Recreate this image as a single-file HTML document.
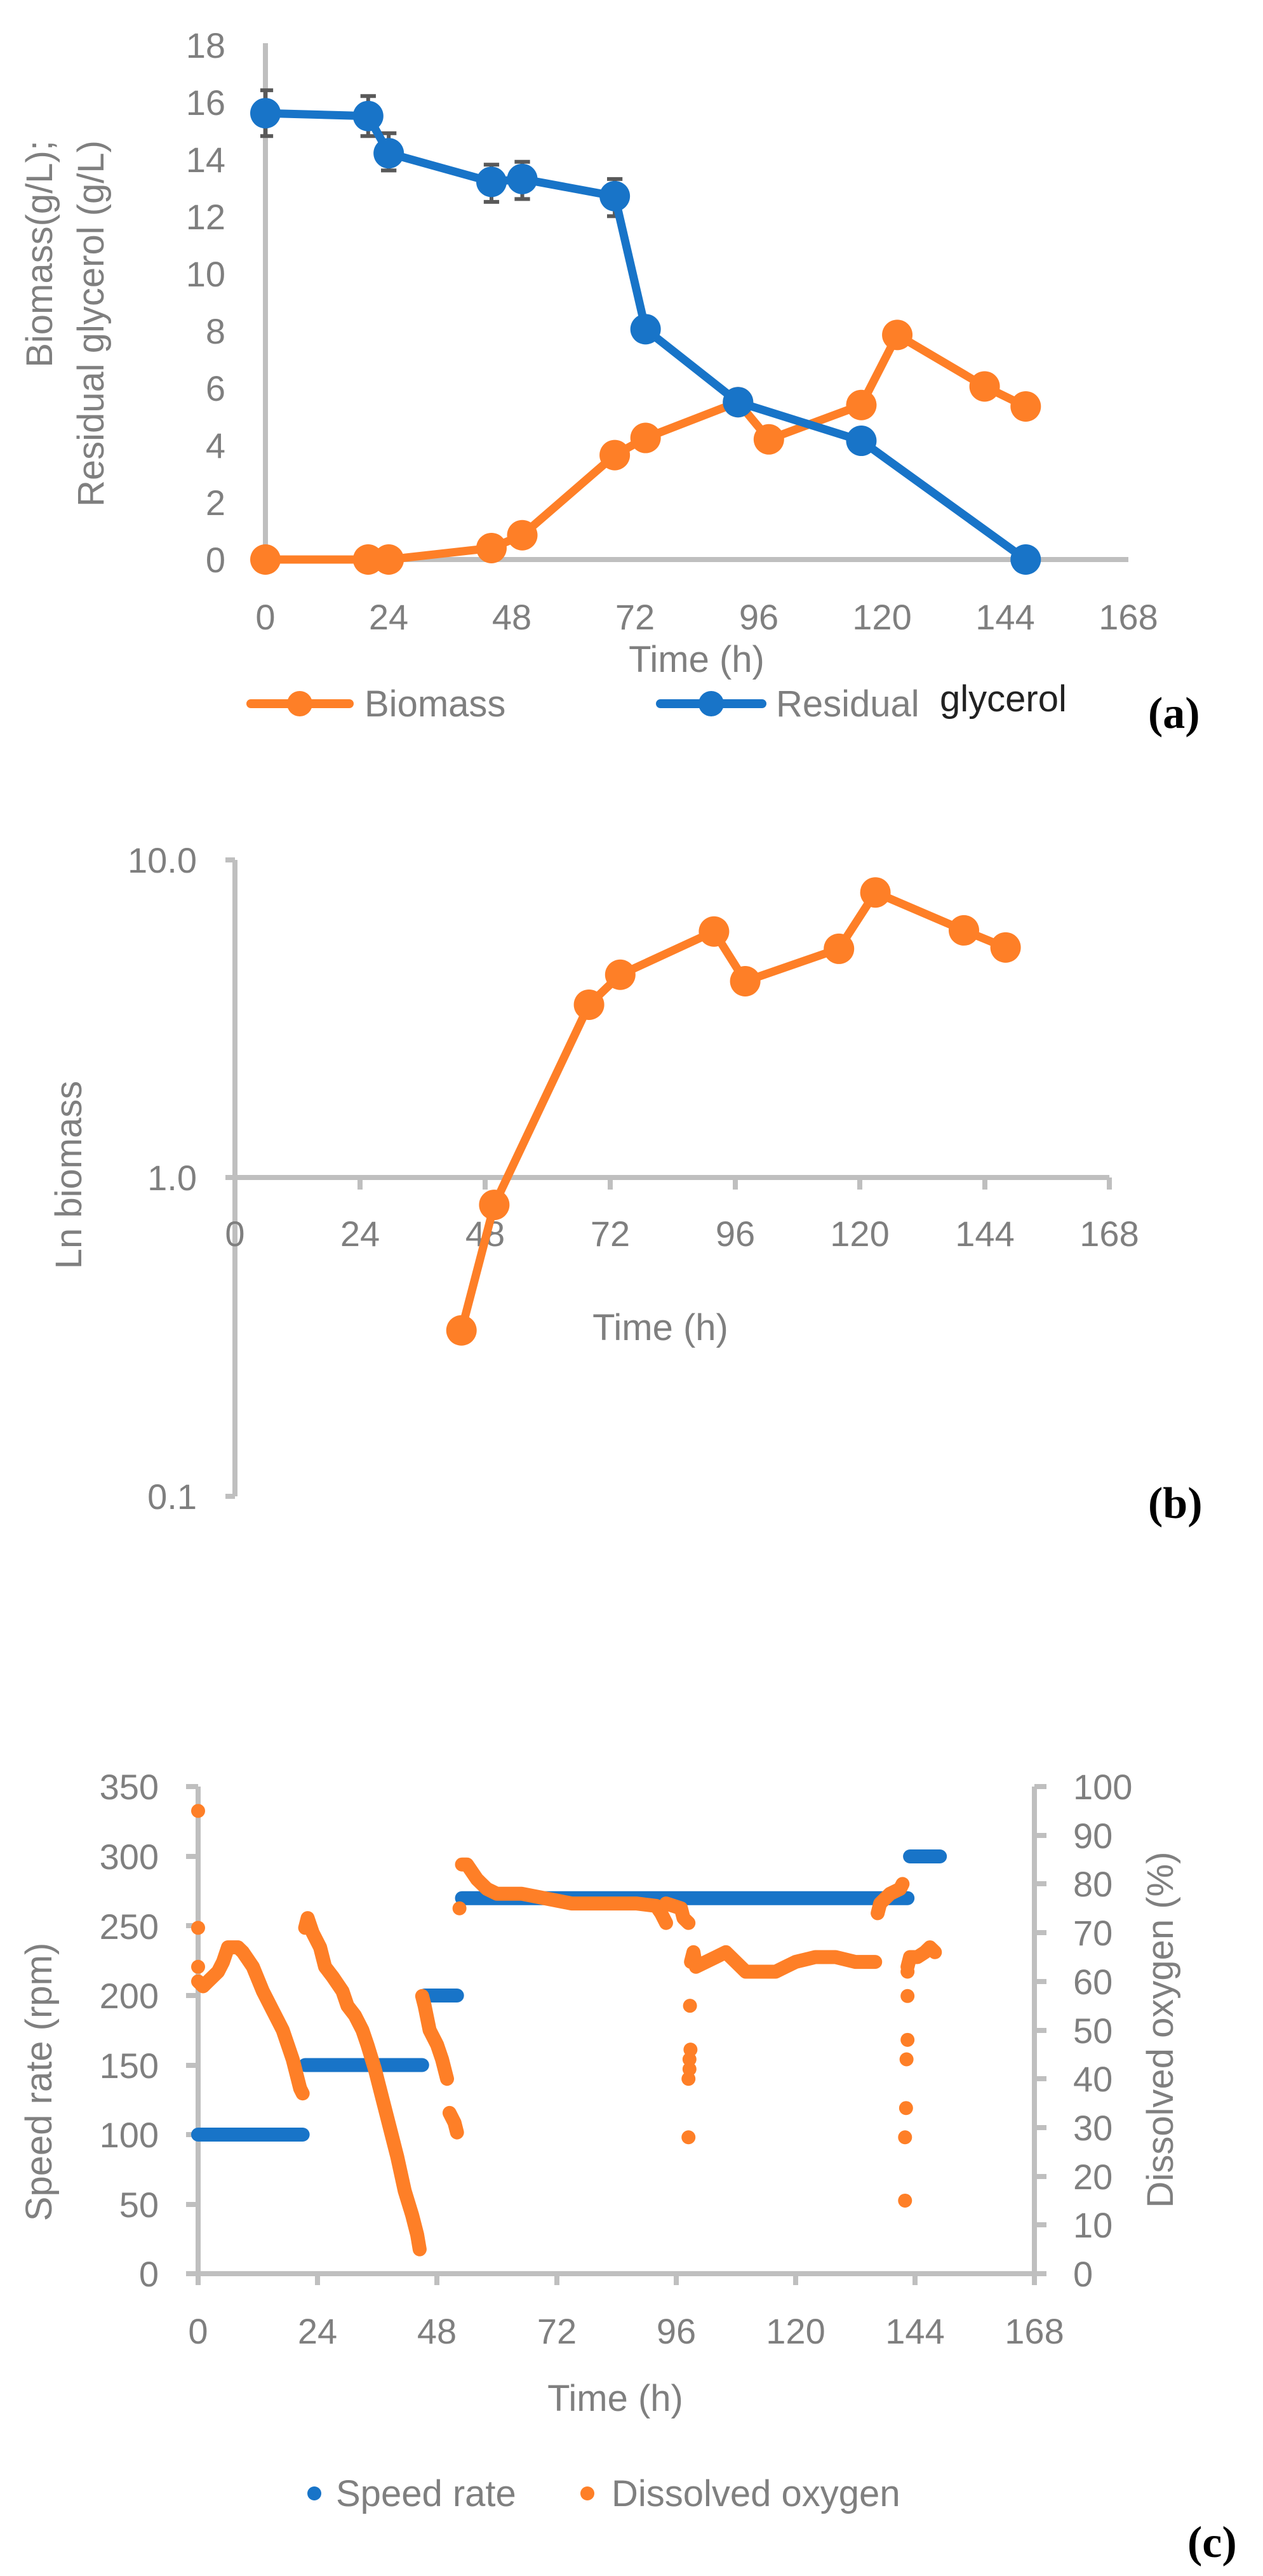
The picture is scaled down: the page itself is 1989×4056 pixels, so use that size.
<!DOCTYPE html>
<html><head><meta charset="utf-8"><style>
html,body{margin:0;padding:0;background:#fff}
svg{display:block}
.t{font-family:"Liberation Sans",sans-serif;fill:#7f7f7f;font-size:56px}
.tit{font-family:"Liberation Sans",sans-serif;fill:#7f7f7f;font-size:58px}
.lab{font-family:"Liberation Serif",serif;font-weight:bold;fill:#000;font-size:70px}
</style></head><body>
<svg width="1989" height="4056" viewBox="0 0 1989 4056" xmlns="http://www.w3.org/2000/svg">
<!-- ================= Chart (a) ================= -->
<g stroke="#bfbfbf" stroke-width="8" fill="none">
<line x1="418" y1="68" x2="418" y2="885"/>
<line x1="414" y1="881" x2="1777" y2="881"/>
</g>
<g class="t" text-anchor="end">
<text x="355" y="901">0</text><text x="355" y="811">2</text><text x="355" y="721">4</text>
<text x="355" y="631">6</text><text x="355" y="541">8</text><text x="355" y="451">10</text>
<text x="355" y="361">12</text><text x="355" y="271">14</text><text x="355" y="181">16</text>
<text x="355" y="91">18</text>
</g>
<g class="t" text-anchor="middle">
<text x="418" y="991">0</text><text x="612" y="991">24</text><text x="806" y="991">48</text>
<text x="1000" y="991">72</text><text x="1195" y="991">96</text><text x="1389" y="991">120</text>
<text x="1583" y="991">144</text><text x="1777" y="991">168</text>
</g>
<text class="tit" x="1097" y="1058" text-anchor="middle">Time (h)</text>
<g class="tit" text-anchor="end">
<text transform="translate(82,221) rotate(-90)">Biomass(g/L);</text>
<text transform="translate(163,221) rotate(-90)">Residual glycerol (g/L)</text>
</g>
<g transform="translate(418,881) scale(8.09,-45.05)" fill="none">
<g stroke="#595959" stroke-width="6">
<path vector-effect="non-scaling-stroke" d="M0 14.8V16.4M-1 14.8H1.5M-1 16.4H1.5 M20 14.8V16.2M18.5 14.8H21.5M18.5 16.2H21.5 M24 13.6V14.9M22.5 13.6H25.5M22.5 14.9H25.5 M44 12.5V13.8M42.5 12.5H45.5M42.5 13.8H45.5 M50 12.6V13.9M48.5 12.6H51.5M48.5 13.9H51.5 M68 12.0V13.3M66.5 12.0H69.5M66.5 13.3H69.5 M123 7.55V8.15M121.5 8.15H124.5"/>
</g>
<polyline vector-effect="non-scaling-stroke" stroke="#fe7f27" stroke-width="13" stroke-linejoin="round" points="0,0 20,0 24,0 44,0.4 50,0.85 68,3.65 74,4.25 92,5.5 98,4.2 116,5.4 123,7.85 140,6.05 148,5.35"/>
<path vector-effect="non-scaling-stroke" stroke="#fe7f27" stroke-width="48" stroke-linecap="round" d="M0 0h0M20 0h0M24 0h0M44 0.4h0M50 0.85h0M68 3.65h0M74 4.25h0M92 5.5h0M98 4.2h0M116 5.4h0M123 7.85h0M140 6.05h0M148 5.35h0"/>
<polyline vector-effect="non-scaling-stroke" stroke="#1874c8" stroke-width="13" stroke-linejoin="round" points="0,15.6 20,15.5 24,14.2 44,13.2 50,13.3 68,12.7 74,8.05 92,5.5 116,4.15 148,0"/>
<path vector-effect="non-scaling-stroke" stroke="#1874c8" stroke-width="48" stroke-linecap="round" d="M0 15.6h0M20 15.5h0M24 14.2h0M44 13.2h0M50 13.3h0M68 12.7h0M74 8.05h0M92 5.5h0M116 4.15h0M148 0h0"/>
</g>
<!-- legend a -->
<line x1="395" y1="1108" x2="550" y2="1108" stroke="#fe7f27" stroke-width="14" stroke-linecap="round"/>
<circle cx="472" cy="1108" r="20" fill="#fe7f27"/>
<text class="tit" x="574" y="1128">Biomass</text>
<line x1="1040" y1="1108" x2="1200" y2="1108" stroke="#1874c8" stroke-width="14" stroke-linecap="round"/>
<circle cx="1120" cy="1108" r="20" fill="#1874c8"/>
<text class="tit" x="1222" y="1128">Residual</text>
<text x="1480" y="1120" font-family="Liberation Sans,sans-serif" font-size="58" fill="#222">glycerol</text>
<text class="lab" x="1808" y="1146">(a)</text>

<!-- ================= Chart (b) ================= -->
<g stroke="#bfbfbf" stroke-width="8" fill="none">
<line x1="370" y1="1354" x2="370" y2="2356"/>
<line x1="355" y1="1354" x2="370" y2="1354"/>
<line x1="355" y1="1854" x2="1747" y2="1854"/>
<line x1="355" y1="2356" x2="370" y2="2356"/>
<path d="M567 1854v19M764 1854v19M961 1854v19M1158 1854v19M1354 1854v19M1551 1854v19M1747 1854v19"/>
</g>
<g class="t" text-anchor="end">
<text x="310" y="1374">10.0</text><text x="310" y="1874">1.0</text><text x="310" y="2376">0.1</text>
</g>
<g class="t" text-anchor="middle">
<text x="370" y="1962">0</text><text x="567" y="1962">24</text><text x="764" y="1962">48</text>
<text x="961" y="1962">72</text><text x="1158" y="1962">96</text><text x="1354" y="1962">120</text>
<text x="1551" y="1962">144</text><text x="1747" y="1962">168</text>
</g>
<text class="tit" x="1040" y="2110" text-anchor="middle">Time (h)</text>
<text class="tit" text-anchor="middle" transform="translate(128,1850) rotate(-90)">Ln biomass</text>
<g transform="translate(370,1854) scale(8.2,-500)" fill="none">
<polyline vector-effect="non-scaling-stroke" stroke="#fe7f27" stroke-width="13" stroke-linejoin="round" points="43.5,-0.4815 49.8,-0.0862 68,0.5441 74,0.6385 92,0.7745 98,0.6180 116,0.7202 123,0.8976 140,0.7782 148,0.7243"/>
<path vector-effect="non-scaling-stroke" stroke="#fe7f27" stroke-width="48" stroke-linecap="round" d="M43.5 -0.4815h0M49.8 -0.0862h0M68 0.5441h0M74 0.6385h0M92 0.7745h0M98 0.6180h0M116 0.7202h0M123 0.8976h0M140 0.7782h0M148 0.7243h0"/>
</g>
<text class="lab" x="1808" y="2390">(b)</text>

<!-- ================= Chart (c) ================= -->
<g stroke="#bfbfbf" stroke-width="8" fill="none">
<line x1="312" y1="2813" x2="312" y2="3598"/>
<line x1="1629" y1="2813" x2="1629" y2="3598"/>
<line x1="293" y1="3580" x2="1648" y2="3580"/>
<path d="M293 2813h19M293 2923h19M293 3032h19M293 3142h19M293 3252h19M293 3361h19M293 3471h19"/>
<path d="M1629 2813h19M1629 2890h19M1629 2966h19M1629 3043h19M1629 3120h19M1629 3197h19M1629 3273h19M1629 3350h19M1629 3427h19M1629 3503h19"/>
<path d="M500 3580v18M688 3580v18M877 3580v18M1065 3580v18M1253 3580v18M1441 3580v18"/>
</g>
<g class="t" text-anchor="end">
<text x="250" y="3600">0</text><text x="250" y="3491">50</text><text x="250" y="3381">100</text>
<text x="250" y="3272">150</text><text x="250" y="3162">200</text><text x="250" y="3053">250</text>
<text x="250" y="2943">300</text><text x="250" y="2833">350</text>
</g>
<g class="t">
<text x="1690" y="3600">0</text><text x="1690" y="3523">10</text><text x="1690" y="3447">20</text>
<text x="1690" y="3370">30</text><text x="1690" y="3293">40</text><text x="1690" y="3217">50</text>
<text x="1690" y="3140">60</text><text x="1690" y="3063">70</text><text x="1690" y="2986">80</text>
<text x="1690" y="2910">90</text><text x="1690" y="2833">100</text>
</g>
<g class="t" text-anchor="middle">
<text x="312" y="3690">0</text><text x="500" y="3690">24</text><text x="688" y="3690">48</text>
<text x="877" y="3690">72</text><text x="1065" y="3690">96</text><text x="1253" y="3690">120</text>
<text x="1441" y="3690">144</text><text x="1629" y="3690">168</text>
</g>
<text class="tit" x="969" y="3796" text-anchor="middle">Time (h)</text>
<text class="tit" text-anchor="middle" transform="translate(81,3278) rotate(-90)">Speed rate (rpm)</text>
<text class="tit" text-anchor="middle" transform="translate(1847,3196) rotate(-90)">Dissolved oxygen (%)</text>
<g transform="translate(312,3580) scale(7.84,-2.19)" fill="none">
<path vector-effect="non-scaling-stroke" stroke="#1874c8" stroke-width="22" stroke-linecap="round" d="M0 100H21M21.5 150H45M45.5 200H52M53 270H142.5M143 300H149"/>
</g>
<g transform="translate(312,3580) scale(7.84,-7.67)" fill="none" stroke="#fe7f27" stroke-width="22" stroke-linecap="round" stroke-linejoin="round">
<path vector-effect="non-scaling-stroke" d="M0 95h0M0 71h0M0 63h0M52.5 75h0M98.5 28h0M98.5 40h0M98.7 42h0M98.7 44h0M98.9 46h0M98.8 55h0M142 15h0M142 28h0M142.2 34h0M142.3 44h0M142.5 48h0M142.5 57h0M142.5 62h0"/>
<polyline vector-effect="non-scaling-stroke" points="0,60 1,59 2,60 3,61 4,62 5,64 6,67 8,67 9,66 11,63 13,58 15,54 17,50 19,44 20.5,38 21,37"/>
<polyline vector-effect="non-scaling-stroke" points="21.5,71 22,73 23,70 24.5,67 25.5,63 27,61 29,58 30,55 31.5,53 33,50 34,47 35.5,42 37,36 38.5,30 40,24 41.5,17 43,12 44,8 44.5,5"/>
<polyline vector-effect="non-scaling-stroke" points="45,57 45.5,55 46.5,50 48,47 49,44 50,40"/>
<polyline vector-effect="non-scaling-stroke" points="50.5,33 51.5,31 52,29"/>
<polyline vector-effect="non-scaling-stroke" points="53,84 54,84 56,81 58,79 60,78 65,78 70,77 75,76 80,76 88,76 92,75.5 93,74 94,72"/>
<polyline vector-effect="non-scaling-stroke" points="94,76 97,75 97.5,73 98.5,72"/>
<polyline vector-effect="non-scaling-stroke" points="99,64 99.5,66 100,63 102,64 104,65 106,66 108,64 110,62 112,62 116,62 118,63 120,64 124,65 128,65 132,64 136,64"/>
<polyline vector-effect="non-scaling-stroke" points="136.5,74 137,76 139,78 141,79 141.5,80"/>
<polyline vector-effect="non-scaling-stroke" points="142.5,63 143,65 144.5,65 146,66 147,67 148,66"/>
</g>
<!-- legend c -->
<circle cx="495" cy="3926" r="11" fill="#1874c8"/>
<text class="tit" x="529" y="3946">Speed rate</text>
<circle cx="925" cy="3926" r="11" fill="#fe7f27"/>
<text class="tit" x="963" y="3946">Dissolved oxygen</text>
<text class="lab" x="1870" y="4026">(c)</text>
</svg>
</body></html>
